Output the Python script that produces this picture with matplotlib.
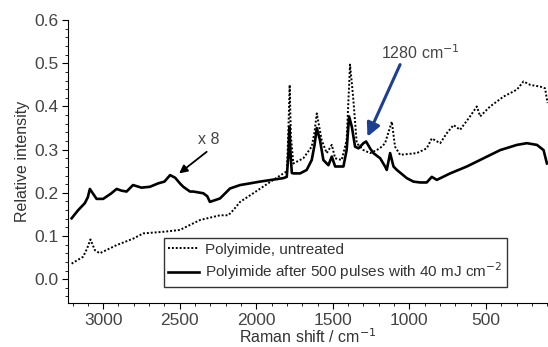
import matplotlib
matplotlib.use("Agg")
import matplotlib.pyplot as plt
from matplotlib.ticker import MultipleLocator, FormatStrFormatter

plt.rcParams['font.family'] = ['Liberation Sans', 'DejaVu Sans']

# Polyimide after 500 pulses (x8)
shift_treated = [3206, 3163, 3120, 3100, 3087, 3070, 3043, 3000, 2950, 2912, 2880, 2847,
                 2805, 2750, 2695, 2640, 2600, 2563, 2530, 2499, 2477, 2433, 2412, 2346,
                 2320, 2303, 2270, 2237, 2200, 2172, 2106, 2040, 1976, 1900, 1824, 1801,
                 1790, 1784, 1778, 1768, 1758, 1714, 1671, 1638, 1620, 1605, 1584, 1562,
                 1529, 1507, 1485, 1431, 1410, 1394, 1376, 1355, 1333, 1300, 1283, 1257,
                 1235, 1191, 1159, 1148, 1126, 1104, 1082, 1017, 974, 930, 887, 854, 821,
                 734, 625, 516, 407, 298, 233, 167, 124, 102]
int_treated = [0.141, 0.160, 0.176, 0.190, 0.209, 0.200, 0.186, 0.186, 0.198, 0.209, 0.205, 0.203,
               0.218, 0.212, 0.214, 0.222, 0.226, 0.241, 0.235, 0.222, 0.214, 0.203, 0.203, 0.199,
               0.192, 0.179, 0.183, 0.187, 0.200, 0.210, 0.218, 0.222, 0.226, 0.230, 0.234, 0.237,
               0.290, 0.353, 0.300, 0.246, 0.245, 0.245, 0.253, 0.276, 0.310, 0.350, 0.322, 0.276,
               0.264, 0.284, 0.261, 0.261, 0.299, 0.377, 0.353, 0.307, 0.303, 0.315, 0.319, 0.303,
               0.292, 0.280, 0.261, 0.253, 0.292, 0.261, 0.253, 0.234, 0.226, 0.224, 0.224, 0.237, 0.230,
               0.245, 0.261, 0.280, 0.299, 0.311, 0.315, 0.311, 0.299, 0.268]

# Polyimide, untreated
shift_untreated = [3206, 3131, 3105, 3083, 3054, 3022, 2912, 2803, 2739, 2600, 2499, 2368,
                   2237, 2183, 2150, 2106, 2020, 1889, 1800, 1790, 1782, 1774, 1758, 1693,
                   1638, 1620, 1605, 1573, 1540, 1507, 1485, 1442, 1410, 1395, 1388, 1375,
                   1366, 1344, 1300, 1257, 1213, 1180, 1159, 1115, 1094, 1061, 952, 887, 854,
                   799, 756, 712, 669, 604, 560, 538, 473, 385, 298, 255, 211, 146, 114, 98]
int_untreated = [0.036, 0.052, 0.071, 0.092, 0.067, 0.060, 0.079, 0.094, 0.106, 0.110, 0.114, 0.137,
                 0.148, 0.148, 0.160, 0.179, 0.199, 0.230, 0.250, 0.350, 0.450, 0.330, 0.268, 0.280,
                 0.307, 0.340, 0.384, 0.322, 0.292, 0.311, 0.280, 0.276, 0.322, 0.440, 0.497, 0.450,
                 0.415, 0.315, 0.299, 0.292, 0.299, 0.307, 0.315, 0.365, 0.307, 0.288, 0.292, 0.303, 0.326,
                 0.315, 0.338, 0.357, 0.346, 0.377, 0.400, 0.377, 0.400, 0.423, 0.439, 0.458, 0.450, 0.446, 0.442, 0.408]

fig = plt.figure(figsize=(5.48, 3.47), dpi=100)
ax = fig.add_axes([0.124, 0.127, 0.876, 0.815])

ax.plot(shift_untreated, int_untreated, color='black', lw=1.4, ls=(0, (1, 1)),
        label='Polyimide, untreated')
ax.plot(shift_treated, int_treated, color='black', lw=1.9,
        label='Polyimide after 500 pulses with 40 mJ cm$^{-2}$')

ax.set_xlim(3230, 95)
ax.set_ylim(-0.055, 0.6)

ax.xaxis.set_major_locator(MultipleLocator(500))
ax.xaxis.set_minor_locator(MultipleLocator(100))
ax.yaxis.set_major_locator(MultipleLocator(0.1))
ax.yaxis.set_minor_locator(MultipleLocator(0.02))
ax.yaxis.set_major_formatter(FormatStrFormatter('%.1f'))

for s in ['top', 'right']:
    ax.spines[s].set_visible(False)
ax.tick_params(which='major', length=4, labelsize=12.5, labelcolor='#444444', pad=3)
ax.tick_params(which='minor', length=2.5)

ax.set_xlabel('Raman shift / cm$^{-1}$', fontsize=11.5, color='#333333', labelpad=0)
ax.set_ylabel('Relative intensity', fontsize=11.5, color='#333333', labelpad=3)

# x 8 label and arrow
ax.text(2381, 0.306, 'x 8', fontsize=11.5, color='#444444', ha='left', va='bottom')
ax.annotate('', xy=(2504, 0.245), xytext=(2324, 0.295),
            arrowprops=dict(arrowstyle='-|>', color='black', lw=1.3, mutation_scale=12,
                            shrinkA=0, shrinkB=0))

# 1280 cm-1 label and arrow
ax.text(930, 0.503, '1280 cm$^{-1}$', fontsize=11.5, color='#444444', ha='center', va='bottom')
ax.annotate('', xy=(1274, 0.330), xytext=(1061, 0.497),
            arrowprops=dict(arrowstyle='-|>', color='#1c3f94', lw=2.2, mutation_scale=20,
                            shrinkA=0, shrinkB=0))

leg = ax.legend(loc='lower center', bbox_to_anchor=(0.557, 0.057), fontsize=11,
                frameon=True, fancybox=False, handlelength=2.0, borderpad=0.3,
                labelspacing=0.25, handletextpad=0.4, borderaxespad=0)
leg.get_frame().set_edgecolor('black')
leg.get_frame().set_linewidth(1)
for t in leg.get_texts():
    t.set_color('#333333')

fig.savefig('out.png', dpi=100)
